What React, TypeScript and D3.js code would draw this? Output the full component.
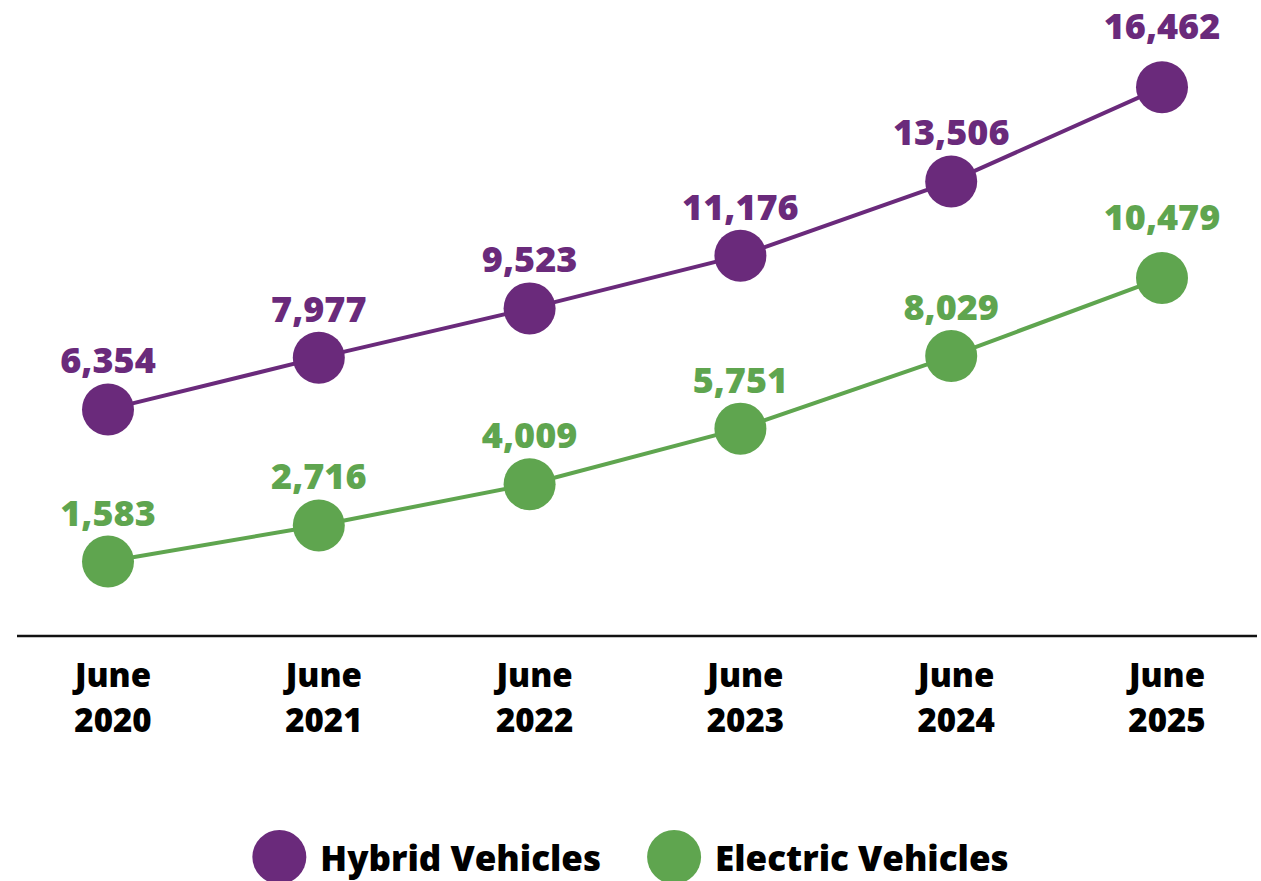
import { useEffect, useRef } from 'react';
import * as d3 from 'd3';

const years = ['2020', '2021', '2022', '2023', '2024', '2025'];
const hybridValues = [6354, 7977, 9523, 11176, 13506, 16462];
const electricValues = [1583, 2716, 4009, 5751, 8029, 10479];
const seriesNames = ['Hybrid Vehicles', 'Electric Vehicles'];
const seriesColors = ['#6a2a7b', '#5fa54f'];

const FONT = '"Open Sans", "DejaVu Sans", sans-serif';

function VehicleChart() {
  const svgRef = useRef<SVGSVGElement | null>(null);

  useEffect(() => {
    const width = 1261;
    const height = 881;

    d3.select(svgRef.current).selectAll('*').remove();

    const svg = d3
      .select(svgRef.current)
      .attr('width', width)
      .attr('height', height)
      .attr('viewBox', `0 0 ${width} ${height}`)
      .style('display', 'block')
      .style('background', '#ffffff');

    const x = d3.scalePoint<string>().domain(years).range([108, 1162]).padding(0);
    const y = d3.scaleLinear().domain([0, 17000]).range([612, 70]);

    // baseline
    svg
      .append('line')
      .attr('x1', 17)
      .attr('x2', 1257)
      .attr('y1', 636)
      .attr('y2', 636)
      .attr('stroke', '#111')
      .attr('stroke-width', 2.5);

    // x labels, two lines each
    const tickStyle = (sel) =>
      sel
        .attr('text-anchor', 'middle')
        .attr('font-family', FONT)
        .attr('font-weight', 800)
        .attr('font-size', '33px')
        .attr('fill', '#000');

    svg
      .selectAll('.tick-month')
      .data(years)
      .enter()
      .append('text')
      .attr('class', 'tick-month')
      .attr('x', (d) => x(d) + 5)
      .attr('y', 687)
      .call(tickStyle)
      .text('June');

    svg
      .selectAll('.tick-year')
      .data(years)
      .enter()
      .append('text')
      .attr('class', 'tick-year')
      .attr('x', (d) => x(d) + 5)
      .attr('y', 732)
      .call(tickStyle)
      .text((d) => d);

    const series = [hybridValues, electricValues];
    const line = d3
      .line<number>()
      .x((d, i) => x(years[i]))
      .y((d) => y(d));

    series.forEach((values, s) => {
      const color = seriesColors[s];
      svg
        .append('path')
        .datum(values)
        .attr('d', line)
        .attr('fill', 'none')
        .attr('stroke', color)
        .attr('stroke-width', 4);

      svg
        .selectAll(`.dot-${s}`)
        .data(values)
        .enter()
        .append('circle')
        .attr('cx', (d, i) => x(years[i]))
        .attr('cy', (d) => y(d))
        .attr('r', 26)
        .attr('fill', color);

      svg
        .selectAll(`.label-${s}`)
        .data(values)
        .enter()
        .append('text')
        .attr('x', (d, i) => x(years[i]))
        .attr('y', (d, i) => y(d) - (i === years.length - 1 ? 48 : 36))
        .attr('text-anchor', 'middle')
        .attr('font-family', FONT)
        .attr('font-weight', 800)
        .attr('font-size', '36px')
        .attr('fill', color)
        .text((d) => d3.format(',')(d));
    });

    // legend
    const legend = svg.append('g');
    let offset = 0;
    seriesNames.forEach((name, i) => {
      const item = legend.append('g').attr('transform', `translate(${offset},0)`);
      item
        .append('circle')
        .attr('cx', 27)
        .attr('cy', 0)
        .attr('r', 27)
        .attr('fill', seriesColors[i]);
      const t = item
        .append('text')
        .attr('x', 68)
        .attr('y', 14)
        .attr('font-family', FONT)
        .attr('font-weight', 800)
        .attr('font-size', '35px')
        .attr('fill', '#000')
        .text(name);
      const w = (t.node() as SVGTextElement).getComputedTextLength();
      offset += 68 + w + 46;
    });
    const total = offset - 46;
    legend.attr('transform', `translate(${(width - total) / 2},857)`);
  }, []);

  return <svg ref={svgRef}></svg>;
}

export default function App() {
  useEffect(() => {
    document.body.style.margin = '0';
  }, []);
  return <VehicleChart />;
}
